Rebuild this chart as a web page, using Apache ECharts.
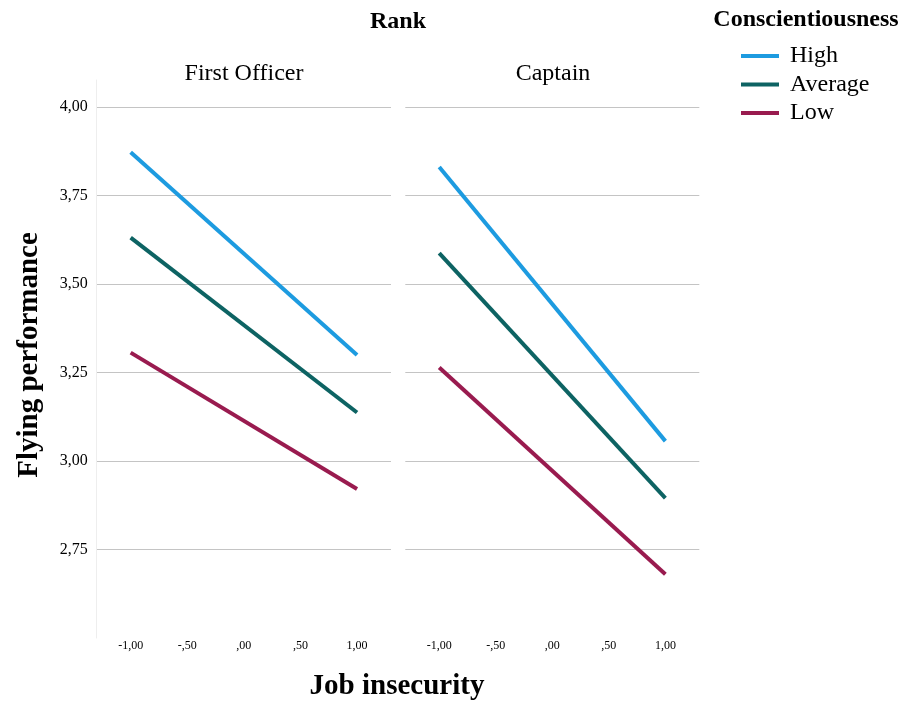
<!DOCTYPE html>
<html>
<head>
<meta charset="utf-8">
<script src="https://cdn.jsdelivr.net/npm/echarts@6/dist/echarts.min.js"></script>
<style>
  html, body { margin: 0; padding: 0; background: #fff; }
  #chart { width: 905px; height: 702px; }
</style>
</head>
<body>
<div id="chart"></div>
<script>
// job insecurity values at which the simple slopes are plotted
const jobInsecurity = [-1, 1];
const xTicks = [-1, -0.5, 0, 0.5, 1];
const levels = ["High", "Average", "Low"];
const panels = ["First Officer", "Captain"];

// flying performance, First Officer
const officerHigh = [3.872, 3.299];
const officerAverage = [3.631, 3.137];
const officerLow = [3.306, 2.921];
// flying performance, Captain
const captainHigh = [3.830, 3.056];
const captainAverage = [3.587, 2.895];
const captainLow = [3.264, 2.680];

const colors = ["#1d9be0", "#0d6363", "#991b4f"];
const font = "Liberation Serif";

function spssNum(v) {
  let s = Math.abs(v).toFixed(2).replace(".", ",");
  if (s.indexOf("0,") === 0) s = s.substr(1);
  return (v < 0 ? "-" : "") + s;
}

function toPoints(ys) {
  return jobInsecurity.map((x, i) => [x, ys[i]]);
}

const seriesData = [
  [officerHigh, officerAverage, officerLow],
  [captainHigh, captainAverage, captainLow]
];

let grids = [
  { left: 96.7, top: 80, width: 294.3, height: 558 },
  { left: 405.3, top: 80, width: 294, height: 558 }
];

let xAxes = grids.map((g, i) => ({
  type: "value",
  gridIndex: i,
  min: -1.3,
  max: 1.3,
  axisLine: { show: false },
  axisTick: { show: false },
  splitLine: { show: false },
  axisLabel: {
    customValues: xTicks,
    margin: 2,
    fontFamily: font,
    fontSize: 12,
    color: "#000",
    formatter: v => spssNum(v)
  }
}));

let yAxes = grids.map((g, i) => ({
  type: "value",
  gridIndex: i,
  min: 2.5,
  max: 4.076,
  interval: 0.25,
  axisLine: { show: i === 0, onZero: false, lineStyle: { color: "#eeeeee", width: 1 } },
  axisTick: { show: false },
  splitLine: {
    show: true,
    showMinLine: false,
    showMaxLine: false,
    lineStyle: { color: "#c4c4c4", width: 1.2 }
  },
  axisLabel: {
    show: i === 0,
    showMinLabel: false,
    showMaxLabel: false,
    margin: 9,
    fontFamily: font,
    fontSize: 16,
    color: "#000",
    formatter: v => (v > 4.001 || v < 2.6 ? "" : spssNum(v))
  }
}));

let series = [];
seriesData.forEach((panel, p) => {
  panel.forEach((ys, k) => {
    series.push({
      name: levels[k],
      type: "line",
      xAxisIndex: p,
      yAxisIndex: p,
      symbol: "none",
      silent: true,
      data: toPoints(ys),
      lineStyle: { color: colors[k], width: 4 },
      itemStyle: { color: colors[k] }
    });
  });
});

function label(text, x, y, size, bold, rotation) {
  return {
    type: "text",
    x: x,
    y: y,
    rotation: rotation || 0,
    style: {
      text: text,
      font: (bold ? "bold " : "") + size + "px '" + font + "'",
      fill: "#000",
      textAlign: "center",
      textVerticalAlign: "middle"
    }
  };
}

let option = {
  backgroundColor: "#fff",
  animation: false,
  grid: grids,
  xAxis: xAxes,
  yAxis: yAxes,
  series: series,
  legend: {
    data: levels,
    orient: "vertical",
    left: 741,
    top: 44,
    padding: 0,
    icon: "rect",
    itemWidth: 38,
    itemHeight: 4,
    itemGap: 4.5,
    textStyle: {
      fontFamily: font,
      fontSize: 24,
      lineHeight: 24,
      color: "#000",
      padding: [0, 0, 0, 6]
    }
  },
  graphic: [
    label("Rank", 398, 22, 24, true),
    label(panels[0], 244, 74, 24, false),
    label(panels[1], 553, 74, 24, false),
    label("Conscientiousness", 806, 20, 24, true),
    label("Job insecurity", 397, 687, 29, true),
    label("Flying performance", 30, 355, 29, true, Math.PI / 2)
  ]
};

let chart = echarts.init(document.getElementById("chart"));
chart.setOption(option);
</script>
</body>
</html>
